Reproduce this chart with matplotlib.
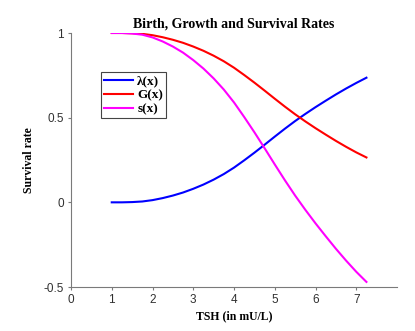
import matplotlib
matplotlib.use("Agg")
import matplotlib.pyplot as plt

# TSH values (mU/L)
tsh = [1.0, 1.25, 1.5, 1.75, 2.0, 2.25, 2.5, 2.75, 3.0, 3.25, 3.5, 3.75, 4.0,
       4.25, 4.5, 4.75, 5.0, 5.25, 5.5, 5.75, 6.0, 6.25, 6.5, 6.75, 7.0, 7.25]
# birth rate lambda(x)
lam = [0.000, 0.000, 0.0015, 0.005, 0.013, 0.025, 0.040, 0.058, 0.080, 0.105,
       0.134, 0.167, 0.205, 0.248, 0.293, 0.340, 0.388, 0.435, 0.480, 0.522,
       0.562, 0.600, 0.637, 0.672, 0.705, 0.736]
# growth rate G(x)
grow = [1.000, 1.000, 0.9985, 0.995, 0.987, 0.975, 0.960, 0.942, 0.920, 0.895,
        0.866, 0.833, 0.795, 0.752, 0.707, 0.660, 0.612, 0.565, 0.520, 0.478,
        0.438, 0.400, 0.363, 0.328, 0.295, 0.265]
# survival rate s(x)
surv = [1.000, 1.000, 0.997, 0.990, 0.974, 0.950, 0.920, 0.884, 0.840, 0.790,
        0.732, 0.666, 0.590, 0.504, 0.414, 0.320, 0.224, 0.130, 0.040, -0.044,
        -0.124, -0.200, -0.274, -0.344, -0.410, -0.470]

series_labels = ["λ(x)", "G(x)", "s(x)"]
xticks = [0, 1, 2, 3, 4, 5, 6, 7]
yticks = [-0.5, 0, 0.5, 1]
ytick_labels = ["-0.5", "0", "0.5", "1"]

W, H = 415, 331
fig = plt.figure(figsize=(W / 100, H / 100), dpi=100)
ax = fig.add_axes([71 / W, 1 - 287 / H, (397 - 71) / W, (287 - 33) / H])

serif = ["Liberation Serif", "DejaVu Serif"]
sans = ["Liberation Sans", "DejaVu Sans"]

ax.plot(tsh, lam, color=(0, 0, 1), lw=1.5, label=series_labels[0])
ax.plot(tsh, grow, color=(1, 0, 0), lw=1.5, label=series_labels[1])
ax.plot(tsh, surv, color=(1, 0, 1), lw=1.5, label=series_labels[2])

ax.set_xlim(0, 8)
ax.set_ylim(-0.5, 1)
ax.set_xticks(xticks)
ax.set_yticks(yticks)
ax.set_yticklabels(ytick_labels)

for s in ["top", "right"]:
    ax.spines[s].set_visible(False)
for s in ["left", "bottom"]:
    ax.spines[s].set_color("#7a7a7a")
    ax.spines[s].set_linewidth(0.8)
ax.tick_params(direction="out", length=2.5, width=0.8, color="#7a7a7a",
               labelsize=8.5, labelcolor="#303030", pad=2.5)
for lab in ax.get_xticklabels() + ax.get_yticklabels():
    lab.set_family(sans)

ax.set_title("Birth, Growth and Survival Rates", family=serif, weight="bold",
             fontsize=10, pad=4)
ax.set_xlabel("TSH (in mU/L)", family=serif, weight="bold", fontsize=8.5, labelpad=3)
ax.set_ylabel("Survival rate", family=serif, weight="bold", fontsize=8.5, labelpad=6)

leg = ax.legend(loc="upper left", bbox_to_anchor=((101 - 71) / (397 - 71), 1 - (72 - 33) / (287 - 33)),
                prop={"family": serif, "weight": "bold", "size": 9.5},
                frameon=True, fancybox=False, framealpha=1, edgecolor="#444444",
                handlelength=2.2, handletextpad=0.3, borderpad=0.25, labelspacing=0.12,
                borderaxespad=0)
leg.get_frame().set_linewidth(0.8)

fig.savefig("out.png", dpi=100)
